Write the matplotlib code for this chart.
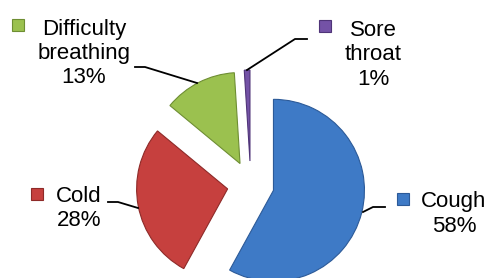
import matplotlib
matplotlib.use("Agg")
import matplotlib.pyplot as plt

# data
labels = ["Cough", "Cold", "Difficulty\nbreathing", "Sore\nthroat"]
values = [58, 28, 13, 1]
colors = ["#3E7AC6", "#C6403E", "#9BC14F", "#7452A6"]
edges = ["#2C5A98", "#8E2A28", "#6E8E33", "#4F3478"]

W, H = 492, 278
plt.rcParams['font.family'] = ['Liberation Sans', 'DejaVu Sans']

fig = plt.figure(figsize=(W / 100, H / 100), dpi=100)
ax = fig.add_axes([0, 0, 1, 1])

cx, cy = 250.7, H - 184.5
wedges, _ = ax.pie(values, colors=colors, startangle=90, counterclock=False,
                   explode=[23.5] * 4, radius=91, center=(cx, cy),
                   wedgeprops=dict(linewidth=0.8))
for w, ec in zip(wedges, edges):
    w.set_edgecolor(ec)

ax.set_xlim(0, W)
ax.set_ylim(0, H)
ax.set_aspect('equal')
ax.axis('off')

# label layout (image pixel coords, y down)
text_pos = [(454, 214), (79, 208.5), (84, 53.5), (373, 55)]
key_pos = [(402.5, 199), (36.5, 194), (17.5, 25), (325, 26)]
leaders = [
    [(385, 207), (373, 207), (363, 212)],
    [(108, 202), (118, 202), (138, 208)],
    [(135, 67), (145, 67), (197, 83)],
    [(307, 39), (295, 39), (247, 70)],
]

for lab, v, c, ec, (tx, ty), (kx, ky), pts in zip(labels, values, colors, edges,
                                                    text_pos, key_pos, leaders):
    ax.text(tx, H - ty, f"{lab}\n{v}%", ha='center', va='center',
            multialignment='center', fontsize=16, color='black')
    ax.plot([kx], [H - ky], marker='s', markersize=9, color=c,
            markeredgecolor=ec, markeredgewidth=0.8)
    ax.plot([p[0] for p in pts], [H - p[1] for p in pts], color='black', lw=1.3)

fig.savefig("out.png", dpi=100)
